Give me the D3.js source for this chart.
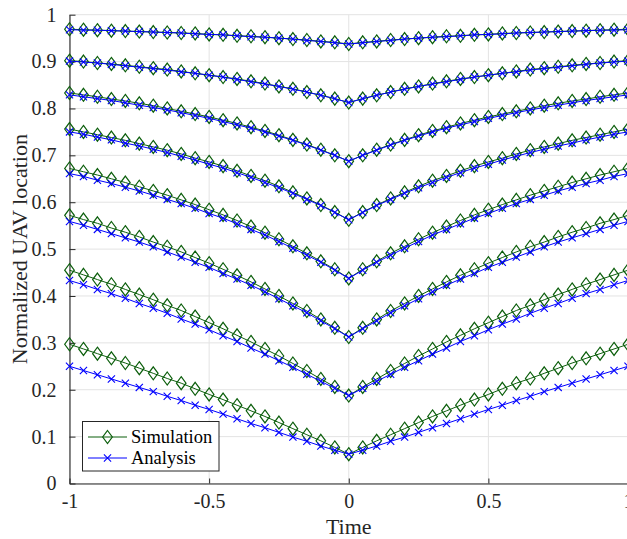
<!DOCTYPE html>
<html>
<head>
<meta charset="utf-8">
<script src="https://cdn.jsdelivr.net/npm/d3@7"></script>
<style>
  html, body { margin: 0; padding: 0; background: #fff; }
  svg { display: block; font-family: "Liberation Serif", "Times New Roman", serif; }
</style>
</head>
<body>
<svg id="chart" width="627" height="539"></svg>
<script>
const time = [-1,-0.95,-0.9,-0.85,-0.8,-0.75,-0.7,-0.65,-0.6,-0.55,-0.5,-0.45,-0.4,-0.35,-0.3,-0.25,-0.2,-0.15,-0.1,-0.05,0,
  0.05,0.1,0.15,0.2,0.25,0.3,0.35,0.4,0.45,0.5,0.55,0.6,0.65,0.7,0.75,0.8,0.85,0.9,0.95,1];

// Simulation (green diamonds), one array per UAV, top to bottom
const sim1 = [0.969,0.968,0.967,0.966,0.965,0.964,0.963,0.962,0.961,0.960,0.958,0.957,0.955,0.954,0.952,0.950,0.948,0.946,0.943,0.941,0.9375,0.941,0.943,0.946,0.948,0.950,0.952,0.954,0.955,0.957,0.958,0.960,0.961,0.962,0.963,0.964,0.965,0.966,0.967,0.968,0.969];
const sim2 = [0.902,0.900,0.897,0.895,0.892,0.889,0.886,0.883,0.879,0.875,0.871,0.867,0.863,0.858,0.853,0.847,0.842,0.835,0.828,0.821,0.8125,0.821,0.828,0.835,0.842,0.847,0.853,0.858,0.863,0.867,0.871,0.875,0.879,0.883,0.886,0.889,0.892,0.895,0.897,0.900,0.902];
const sim3 = [0.833,0.829,0.825,0.820,0.816,0.811,0.806,0.800,0.794,0.788,0.782,0.775,0.768,0.760,0.752,0.743,0.733,0.723,0.712,0.700,0.6875,0.700,0.712,0.723,0.733,0.743,0.752,0.760,0.768,0.775,0.782,0.788,0.794,0.800,0.806,0.811,0.816,0.820,0.825,0.829,0.833];
const sim4 = [0.756,0.750,0.744,0.738,0.732,0.725,0.718,0.711,0.703,0.694,0.686,0.677,0.667,0.656,0.646,0.634,0.621,0.608,0.594,0.579,0.5625,0.579,0.594,0.608,0.621,0.634,0.646,0.656,0.667,0.677,0.686,0.694,0.703,0.711,0.718,0.725,0.732,0.738,0.744,0.750,0.756];
const sim5 = [0.672,0.665,0.658,0.650,0.642,0.633,0.624,0.615,0.605,0.595,0.584,0.573,0.561,0.548,0.535,0.521,0.506,0.491,0.474,0.457,0.4375,0.457,0.474,0.491,0.506,0.521,0.535,0.548,0.561,0.573,0.584,0.595,0.605,0.615,0.624,0.633,0.642,0.650,0.658,0.665,0.672];
const sim6 = [0.572,0.563,0.555,0.545,0.536,0.526,0.515,0.505,0.494,0.482,0.470,0.457,0.444,0.430,0.415,0.400,0.384,0.368,0.350,0.332,0.3125,0.332,0.350,0.368,0.384,0.400,0.415,0.430,0.444,0.457,0.470,0.482,0.494,0.505,0.515,0.526,0.536,0.545,0.555,0.563,0.572];
const sim7 = [0.455,0.445,0.435,0.425,0.414,0.403,0.392,0.380,0.369,0.356,0.343,0.330,0.316,0.302,0.287,0.272,0.256,0.240,0.223,0.206,0.1875,0.206,0.223,0.240,0.256,0.272,0.287,0.302,0.316,0.330,0.343,0.356,0.369,0.380,0.392,0.403,0.414,0.425,0.435,0.445,0.455];
const sim8 = [0.297,0.287,0.277,0.267,0.257,0.246,0.235,0.224,0.214,0.202,0.190,0.179,0.167,0.155,0.143,0.130,0.117,0.104,0.091,0.077,0.0625,0.077,0.091,0.104,0.117,0.130,0.143,0.155,0.167,0.179,0.190,0.202,0.214,0.224,0.235,0.246,0.257,0.267,0.277,0.287,0.297];

// Analysis (blue crosses)
const ana1 = [0.968,0.967,0.967,0.966,0.965,0.964,0.963,0.962,0.961,0.959,0.958,0.957,0.955,0.953,0.952,0.950,0.948,0.945,0.943,0.940,0.9375,0.940,0.943,0.945,0.948,0.950,0.952,0.953,0.955,0.957,0.958,0.959,0.961,0.962,0.963,0.964,0.965,0.966,0.967,0.967,0.968];
const ana2 = [0.901,0.899,0.897,0.894,0.891,0.888,0.885,0.882,0.878,0.875,0.871,0.867,0.862,0.857,0.852,0.847,0.841,0.835,0.828,0.821,0.8125,0.821,0.828,0.835,0.841,0.847,0.852,0.857,0.862,0.867,0.871,0.875,0.878,0.882,0.885,0.888,0.891,0.894,0.897,0.899,0.901];
const ana3 = [0.829,0.825,0.821,0.817,0.812,0.807,0.802,0.797,0.791,0.785,0.779,0.772,0.765,0.758,0.750,0.741,0.732,0.722,0.711,0.700,0.6875,0.700,0.711,0.722,0.732,0.741,0.750,0.758,0.765,0.772,0.779,0.785,0.791,0.797,0.802,0.807,0.812,0.817,0.821,0.825,0.829];
const ana4 = [0.750,0.745,0.739,0.733,0.726,0.720,0.713,0.706,0.698,0.690,0.681,0.673,0.663,0.653,0.642,0.631,0.619,0.606,0.593,0.578,0.5625,0.578,0.593,0.606,0.619,0.631,0.642,0.653,0.663,0.673,0.681,0.690,0.698,0.706,0.713,0.720,0.726,0.733,0.739,0.745,0.750];
const ana5 = [0.661,0.655,0.647,0.640,0.632,0.624,0.615,0.606,0.597,0.587,0.576,0.566,0.554,0.542,0.530,0.516,0.502,0.487,0.472,0.455,0.4375,0.455,0.472,0.487,0.502,0.516,0.530,0.542,0.554,0.566,0.576,0.587,0.597,0.606,0.615,0.624,0.632,0.640,0.647,0.655,0.661];
const ana6 = [0.559,0.551,0.542,0.533,0.524,0.515,0.505,0.494,0.483,0.472,0.461,0.448,0.436,0.423,0.409,0.394,0.379,0.364,0.347,0.330,0.3125,0.330,0.347,0.364,0.379,0.394,0.409,0.423,0.436,0.448,0.461,0.472,0.483,0.494,0.505,0.515,0.524,0.533,0.542,0.551,0.559];
const ana7 = [0.433,0.424,0.414,0.405,0.395,0.384,0.374,0.363,0.351,0.340,0.328,0.315,0.303,0.289,0.276,0.262,0.248,0.233,0.218,0.203,0.1875,0.203,0.218,0.233,0.248,0.262,0.276,0.289,0.303,0.315,0.328,0.340,0.351,0.363,0.374,0.384,0.395,0.405,0.414,0.424,0.433];
const ana8 = [0.250,0.241,0.232,0.223,0.214,0.205,0.196,0.186,0.177,0.167,0.158,0.148,0.138,0.128,0.119,0.109,0.099,0.090,0.080,0.071,0.0625,0.071,0.080,0.090,0.099,0.109,0.119,0.128,0.138,0.148,0.158,0.167,0.177,0.186,0.196,0.205,0.214,0.223,0.232,0.241,0.250];

const xTicks = [-1, -0.5, 0, 0.5, 1];
const xTickLabels = ["-1", "-0.5", "0", "0.5", "1"];
const yTicks = [0, 0.1, 0.2, 0.3, 0.4, 0.5, 0.6, 0.7, 0.8, 0.9, 1];
const yTickLabels = ["0", "0.1", "0.2", "0.3", "0.4", "0.5", "0.6", "0.7", "0.8", "0.9", "1"];
const seriesNames = ["Simulation", "Analysis"];
const xLabel = "Time";
const yLabel = "Normalized UAV location";

const simSeries = [sim1, sim2, sim3, sim4, sim5, sim6, sim7, sim8];
const anaSeries = [ana1, ana2, ana3, ana4, ana5, ana6, ana7, ana8];

(function draw() {
const svg = d3.select("#chart");
const pL = 69.5, pR = 628, pT = 14.7, pB = 483.5;
const x = d3.scaleLinear().domain([-1, 1]).range([pL, pR]);
const y = d3.scaleLinear().domain([0, 1]).range([pB, pT]);

const axisColor = "#262626";
const gridColor = "#e3e3e3";
const simColor = "#0b5e0b";
const anaColor = "#0000ff";

// grid
const grid = svg.append("g");
grid.selectAll("line.gx").data(xTicks).join("line").attr("class", "gx")
  .attr("x1", d => x(d)).attr("x2", d => x(d))
  .attr("y1", pT).attr("y2", pB)
  .attr("stroke", gridColor).attr("stroke-width", 1);
grid.selectAll("line.gy").data(yTicks).join("line").attr("class", "gy")
  .attr("x1", pL).attr("x2", pR)
  .attr("y1", d => y(d)).attr("y2", d => y(d))
  .attr("stroke", gridColor).attr("stroke-width", 1);

// axes
const xAxis = d3.axisBottom(x).tickValues(xTicks)
  .tickFormat((d, i) => xTickLabels[i]).tickSizeInner(-5).tickSizeOuter(0).tickPadding(10);
const yAxis = d3.axisLeft(y).tickValues(yTicks)
  .tickFormat((d, i) => yTickLabels[i]).tickSizeInner(-6).tickSizeOuter(0).tickPadding(13);

const gx = svg.append("g").attr("transform", `translate(0,${pB})`).call(xAxis);
const gy = svg.append("g").attr("transform", `translate(${pL},0)`).call(yAxis);
[gx, gy].forEach(g => {
  g.select(".domain").attr("stroke", axisColor).attr("stroke-width", 1.1);
  g.selectAll(".tick line").attr("stroke", axisColor).attr("stroke-width", 1);
  g.selectAll(".tick text").attr("fill", axisColor)
    .style("font-family", "'Liberation Serif', serif").style("font-size", "20px");
});

// series
const line = d3.line().x((d, i) => x(time[i])).y(d => y(d));
const diamond = "M0,-6.5L4.8,0L0,6.5L-4.8,0Z";
const cross = "M-3.6,-3.6L3.6,3.6M3.6,-3.6L-3.6,3.6";

const simG = svg.append("g");
simSeries.forEach(s => {
  simG.append("path").datum(s).attr("d", line)
    .attr("fill", "none").attr("stroke", simColor).attr("stroke-width", 1);
  simG.append("g").selectAll("path").data(s).join("path")
    .attr("transform", (d, i) => `translate(${x(time[i])},${y(d)})`)
    .attr("d", diamond).attr("fill", "none").attr("stroke", simColor).attr("stroke-width", 1.2);
});
const anaG = svg.append("g");
anaSeries.forEach(s => {
  anaG.append("path").datum(s).attr("d", line)
    .attr("fill", "none").attr("stroke", anaColor).attr("stroke-width", 1);
  anaG.append("g").selectAll("path").data(s).join("path")
    .attr("transform", (d, i) => `translate(${x(time[i])},${y(d)})`)
    .attr("d", cross).attr("fill", "none").attr("stroke", anaColor).attr("stroke-width", 1.1);
});

// axis labels
svg.append("text").attr("x", x(0)).attr("y", 534)
  .attr("text-anchor", "middle").attr("fill", axisColor)
  .style("font-size", "22px").text(xLabel);
svg.append("text").attr("transform", `translate(27,${(pT + pB) / 2}) rotate(-90)`)
  .attr("text-anchor", "middle").attr("fill", axisColor)
  .style("font-size", "22px").text(yLabel);

// legend
const lg = svg.append("g");
lg.append("rect").attr("x", 82.5).attr("y", 421.5).attr("width", 136.5).attr("height", 49.5)
  .attr("fill", "#fff").attr("stroke", axisColor).attr("stroke-width", 1);
const rows = [
  {name: seriesNames[0], color: simColor, shape: diamond, sw: 1.2, cy: 437},
  {name: seriesNames[1], color: anaColor, shape: cross, sw: 1.1, cy: 458}
];
rows.forEach(r => {
  lg.append("line").attr("x1", 88).attr("x2", 127).attr("y1", r.cy).attr("y2", r.cy)
    .attr("stroke", r.color).attr("stroke-width", 1);
  lg.append("path").attr("transform", `translate(107.5,${r.cy})`).attr("d", r.shape)
    .attr("fill", "none").attr("stroke", r.color).attr("stroke-width", r.sw);
  lg.append("text").attr("x", 131).attr("y", r.cy).attr("dy", "0.35em")
    .attr("fill", "#000").style("font-size", "18.5px").text(r.name);
});
})();
</script>
</body>
</html>
